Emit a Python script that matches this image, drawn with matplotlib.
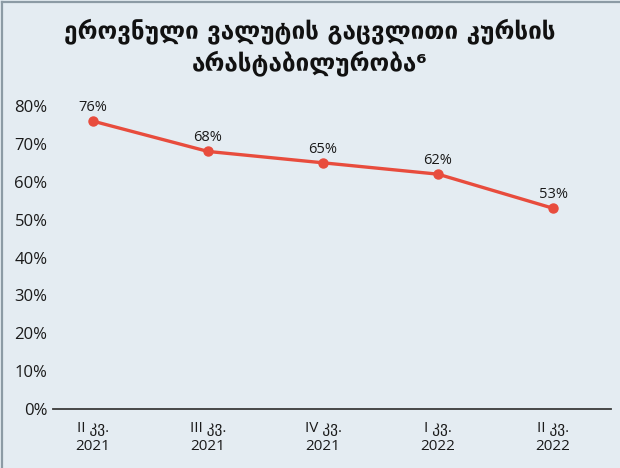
import matplotlib
matplotlib.use("Agg")
import matplotlib.pyplot as plt

categories = ["II კვ.\n2021", "III კვ.\n2021", "IV კვ.\n2021", "I კვ.\n2022", "II კვ.\n2022"]
values = [76, 68, 65, 62, 53]
labels = ["76%", "68%", "65%", "62%", "53%"]
yticks = [0, 10, 20, 30, 40, 50, 60, 70, 80]
title = "ეროვნული ვალუტის გაცვლითი კურსის\nარასტაბილურობა⁶"

bg = "#e4ecf2"
red = "#e84c3d"
fam = ["Open Sans", "DejaVu Sans"]

fig = plt.figure(figsize=(6.2, 4.68), dpi=100)
fig.patch.set_facecolor(bg)
fig.add_artist(plt.Line2D([0.004, 1], [0.995, 0.995], transform=fig.transFigure, color="#8c9ba5", lw=1.6))
fig.add_artist(plt.Line2D([0.004, 0.004], [0, 0.995], transform=fig.transFigure, color="#8c9ba5", lw=1.6))

ax = fig.add_axes([53/620, 1 - 409/468, (611 - 53)/620, (409 - 106)/468])
ax.set_facecolor(bg)
x = list(range(len(values)))
ax.plot(x, values, color=red, lw=2.4, marker="o", ms=6.5, clip_on=False, zorder=3)
for xi, v, lab in zip(x, values, labels):
    ax.annotate(lab, (xi, v), xytext=(0, 4.5), textcoords="offset points", ha="center", va="bottom",
                fontsize=10.5, family=fam, color="#1a1a1a")

ax.set_xlim(-0.348, 4.504)
ax.set_ylim(0, 80)
ax.set_yticks(yticks)
ax.set_yticklabels([f"{t}%" for t in yticks], family=fam, fontsize=12, color="#1a1a1a")
ax.set_xticks(x)
ax.set_xticklabels(categories, family=fam, fontsize=11, color="#1a1a1a", linespacing=1.2)
ax.tick_params(axis="y", length=0, pad=4)
ax.tick_params(axis="x", length=0, pad=9)
for s in ["top", "right", "left"]:
    ax.spines[s].set_visible(False)
ax.spines["bottom"].set_color("#3a3a3a")
ax.spines["bottom"].set_linewidth(1.3)

fig.text(0.5, 1 - 47/468, title, ha="center", va="center", fontsize=17.5, fontweight="bold",
         family=["DejaVu Sans"], color="#111111", linespacing=1.3)

fig.savefig("out.png", dpi=100, facecolor=bg)
